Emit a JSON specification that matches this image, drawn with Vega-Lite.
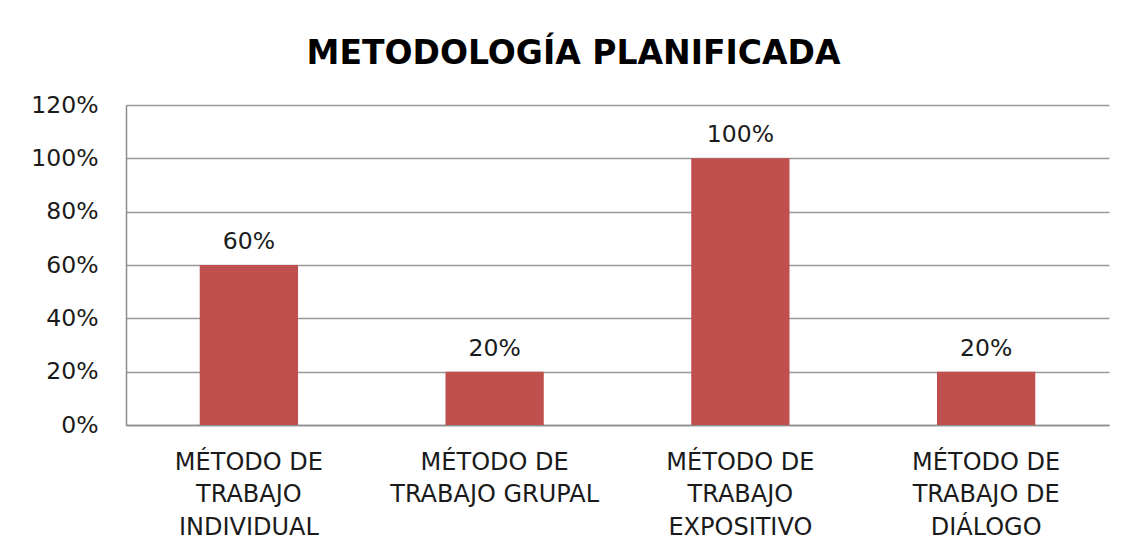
{
  "$schema": "https://vega.github.io/schema/vega-lite/v6.json",
  "width": 983,
  "height": 320,
  "autosize": {"type": "none"},
  "padding": {"left": 126, "top": 105, "right": 33, "bottom": 131},
  "background": "white",
  "title": {
    "text": "METODOLOGÍA PLANIFICADA",
    "font": "DejaVu Sans",
    "fontSize": 33,
    "fontWeight": "bold",
    "color": "#000000",
    "anchor": "middle",
    "dx": -44,
    "offset": 22
  },
  "data": {
    "values": [
      {"metodo": "MÉTODO DE TRABAJO INDIVIDUAL", "pct": 0.6},
      {"metodo": "MÉTODO DE TRABAJO GRUPAL", "pct": 0.2},
      {"metodo": "MÉTODO DE TRABAJO EXPOSITIVO", "pct": 1.0},
      {"metodo": "MÉTODO DE TRABAJO DE DIÁLOGO", "pct": 0.2}
    ]
  },
  "encoding": {
    "x": {
      "field": "metodo",
      "type": "nominal",
      "sort": null,
      "scale": {"paddingInner": 0.6, "paddingOuter": 0.3},
      "axis": {
        "title": null,
        "labelAngle": 0,
        "labelFont": "DejaVu Sans",
        "labelFontSize": 24,
        "labelColor": "#1a1a1a",
        "labelLineHeight": 32.5,
        "labelPadding": 25,
        "labelBaseline": "top",
        "labelLimit": 0,
        "ticks": false,
        "domainColor": "#8c8c8c",
        "domainWidth": 1.5,
        "labelExpr": "datum.value == 'MÉTODO DE TRABAJO INDIVIDUAL' ? ['MÉTODO DE', 'TRABAJO', 'INDIVIDUAL'] : datum.value == 'MÉTODO DE TRABAJO GRUPAL' ? ['MÉTODO DE', 'TRABAJO GRUPAL'] : datum.value == 'MÉTODO DE TRABAJO EXPOSITIVO' ? ['MÉTODO DE', 'TRABAJO', 'EXPOSITIVO'] : ['MÉTODO DE', 'TRABAJO DE', 'DIÁLOGO']"
      }
    },
    "y": {
      "field": "pct",
      "type": "quantitative",
      "scale": {"domain": [0, 1.2], "nice": false},
      "axis": {
        "title": null,
        "format": ".0%",
        "values": [0, 0.2, 0.4, 0.6, 0.8, 1.0, 1.2],
        "labelFont": "DejaVu Sans",
        "labelFontSize": 23.5,
        "labelColor": "#1a1a1a",
        "labelPadding": 28,
        "ticks": false,
        "grid": true,
        "gridColor": "#999999",
        "gridWidth": 1.5,
        "domainColor": "#8c8c8c",
        "domainWidth": 1.5
      }
    }
  },
  "layer": [
    {"mark": {"type": "bar", "color": "#C0504D"}},
    {
      "mark": {
        "type": "text",
        "font": "DejaVu Sans",
        "fontSize": 23.5,
        "color": "#1a1a1a",
        "baseline": "alphabetic",
        "dy": -16
      },
      "encoding": {"text": {"field": "pct", "type": "quantitative", "format": ".0%"}}
    }
  ],
  "config": {"view": {"stroke": null}}
}
